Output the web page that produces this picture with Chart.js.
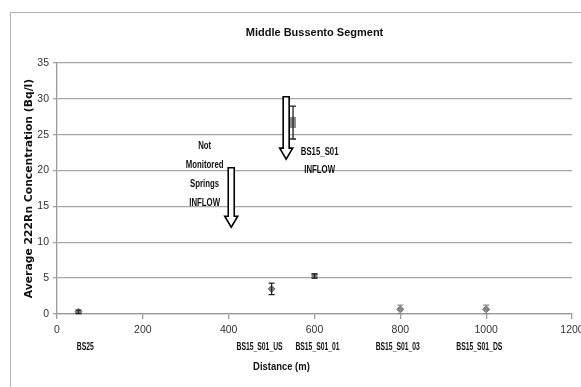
<!DOCTYPE html>
<html>
<head>
<meta charset="utf-8">
<script src="https://cdn.jsdelivr.net/npm/chart.js@4.4.1/dist/chart.umd.min.js"></script>
<style>
  html, body { margin: 0; padding: 0; background: #fff; overflow: hidden; }
  #frame { position: absolute; left: 10px; top: 12px; width: 700px; height: 500px; border: 1.5px solid #b0b0b0; }
  #wrap { position: absolute; left: 0; top: 0; width: 581px; height: 387px; }
</style>
</head>
<body>
<div id="frame"></div>
<div id="wrap"><canvas id="chart"></canvas></div>
<script>
// Sampling stations along the middle Bussento segment
const distances = [50, 500, 600, 800, 1000];
const stations = ['BS25', 'BS15_S01_US', 'BS15_S01_01', 'BS15_S01_03', 'BS15_S01_DS'];
const radon = [0.3, 3.5, 5.3, 0.65, 0.65];
const radonErr = [0.25, 0.8, 0.3, 0.6, 0.6];

// BS15_S01 spring inflow
const inflowDistance = [550];
const inflowRadon = [26.7];
const inflowErr = [2.3];

const xTicks = [0, 200, 400, 600, 800, 1000, 1200];
const yTicks = [0, 5, 10, 15, 20, 25, 30, 35];

const sans = "'Liberation Sans', Arial, sans-serif";

// where the station names sit along the axis (in metres, as placed in the source)
const stationLabelAt = [66, 472, 607, 794, 984];

// tall grey rectangle used as marker for the inflow point
const inflowMarker = document.createElement('canvas');
inflowMarker.width = 6;
inflowMarker.height = 11;
(function() {
    const c = inflowMarker.getContext('2d');
    c.fillStyle = '#8c8c8c';
    c.fillRect(0, 0, 6, 11);
})();

const stationPoints = distances.map((d, i) => ({ x: d, y: radon[i] }));
const inflowPoints = inflowDistance.map((d, i) => ({ x: d, y: inflowRadon[i] }));

// text squeezed horizontally, the source uses a narrow font
function narrowText(ctx, text, x, y, k) {
    ctx.save();
    ctx.translate(x, y);
    ctx.scale(k, 1);
    ctx.fillText(text, 0, 0);
    ctx.restore();
}

// error bars, station names, arrows and notes
const extrasPlugin = {
    id: 'extras',
    afterDatasetsDraw(chart) {
        const ctx = chart.ctx;
        const xs = chart.scales.x;
        const ys = chart.scales.y;

        function errorBar(x, y, err, color) {
            const px = xs.getPixelForValue(x);
            const top = ys.getPixelForValue(y + err);
            const bot = ys.getPixelForValue(y - err);
            ctx.save();
            ctx.strokeStyle = color;
            ctx.lineWidth = 1.3;
            ctx.beginPath();
            ctx.moveTo(px, top); ctx.lineTo(px, bot);
            ctx.moveTo(px - 3, top); ctx.lineTo(px + 3, top);
            ctx.moveTo(px - 3, bot); ctx.lineTo(px + 3, bot);
            ctx.stroke();
            ctx.restore();
        }

        distances.forEach((d, i) => {
            errorBar(d, radon[i], radonErr[i], i >= 3 ? '#8a8a8a' : '#222');
        });
        inflowDistance.forEach((d, i) => errorBar(d, inflowRadon[i], inflowErr[i], '#222'));

        // station names under the axis
        ctx.save();
        ctx.fillStyle = '#111';
        ctx.font = "bold 10px " + sans;
        ctx.textAlign = 'center';
        ctx.textBaseline = 'middle';
        stations.forEach((s, i) => {
            narrowText(ctx, s, xs.getPixelForValue(stationLabelAt[i]), 347, 0.68);
        });
        ctx.font = "bold 10.5px " + sans;
        narrowText(ctx, 'Distance (m)', xs.getPixelForValue(523), 367, 0.9);
        ctx.restore();

        // block arrows
        function arrow(x, from, to) {
            const cx = xs.getPixelForValue(x);
            const y0 = ys.getPixelForValue(from);
            const y1 = ys.getPixelForValue(to);
            const hw = 3, hh = 6.5, headLen = 11;
            ctx.save();
            ctx.beginPath();
            ctx.moveTo(cx - hw, y0);
            ctx.lineTo(cx + hw, y0);
            ctx.lineTo(cx + hw, y1 - headLen);
            ctx.lineTo(cx + hh, y1 - headLen);
            ctx.lineTo(cx, y1);
            ctx.lineTo(cx - hh, y1 - headLen);
            ctx.lineTo(cx - hw, y1 - headLen);
            ctx.closePath();
            ctx.fillStyle = '#fff';
            ctx.fill();
            ctx.strokeStyle = '#000';
            ctx.lineWidth = 1.6;
            ctx.stroke();
            ctx.restore();
        }
        arrow(406, 20.4, 12.1);
        arrow(534, 30.3, 21.6);

        // notes
        ctx.save();
        ctx.fillStyle = '#111';
        ctx.font = "bold 10px " + sans;
        ctx.textAlign = 'center';
        ctx.textBaseline = 'middle';
        const nx = xs.getPixelForValue(344);
        ['Not', 'Monitored', 'Springs', 'INFLOW'].forEach((t, i) => {
            narrowText(ctx, t, nx, 146 + i * 19, 0.78);
        });
        const bx = xs.getPixelForValue(612);
        narrowText(ctx, 'BS15_S01', bx, 152, 0.78);
        narrowText(ctx, 'INFLOW', bx, 170, 0.78);
        ctx.restore();
    }
};

new Chart(document.getElementById('chart'), {
    type: 'scatter',
    data: {
        datasets: [
            {
                label: 'Stations',
                data: stationPoints,
                pointStyle: ['rectRot', 'rectRot', 'rect', 'rectRot', 'rectRot'],
                pointRadius: 3.5,
                backgroundColor: '#858585',
                borderColor: '#6e6e6e',
                borderWidth: 1
            },
            {
                label: 'BS15_S01 inflow',
                data: inflowPoints,
                pointStyle: inflowMarker,
                backgroundColor: '#8c8c8c',
                borderColor: '#8c8c8c'
            }
        ]
    },
    options: {
        responsive: true,
        maintainAspectRatio: false,
        animation: false,
        layout: { padding: { left: 10, right: 9, top: 0, bottom: 0 } },
        plugins: {
            legend: { display: false },
            tooltip: { enabled: false },
            title: {
                display: true,
                fullSize: false,
                text: 'Middle Bussento Segment',
                color: '#111',
                font: { family: sans, size: 11, weight: 'bold' },
                padding: { top: 26.5, bottom: 23.3 }
            }
        },
        scales: {
            x: {
                type: 'linear',
                min: 0,
                max: 1200,
                afterBuildTicks(scale) { scale.ticks = xTicks.map(v => ({ value: v })); },
                afterFit(scale) {
                    scale.height = 73;
                    scale.paddingLeft = 0;
                    scale.paddingRight = 0;
                },
                border: { color: '#9a9a9a', width: 1.3 },
                grid: { drawOnChartArea: false, drawTicks: true, tickLength: 5, color: '#9a9a9a', lineWidth: 1.3 },
                ticks: {
                    color: '#333',
                    font: { family: sans, size: 10.5 },
                    padding: 5,
                    maxRotation: 0,
                    autoSkip: false,
                    callback: v => String(v)
                }
            },
            y: {
                min: 0,
                max: 35,
                afterBuildTicks(scale) { scale.ticks = yTicks.map(v => ({ value: v })); },
                afterFit(scale) { scale.width = 47; },
                border: { color: '#9a9a9a', width: 1.3 },
                grid: { color: '#a6a6a6', lineWidth: 1.3, tickLength: 4 },
                ticks: {
                    color: '#333',
                    font: { family: sans, size: 10.5 },
                    padding: 4,
                    callback: v => String(v)
                },
                title: {
                    display: true,
                    text: 'Average 222Rn Concentration (Bq/l)',
                    color: '#111',
                    font: { family: "'DejaVu Sans', sans-serif", size: 10.8, weight: 'bold' },
                    padding: { top: 13, bottom: 0 }
                }
            }
        }
    },
    plugins: [extrasPlugin]
});
</script>
</body>
</html>
